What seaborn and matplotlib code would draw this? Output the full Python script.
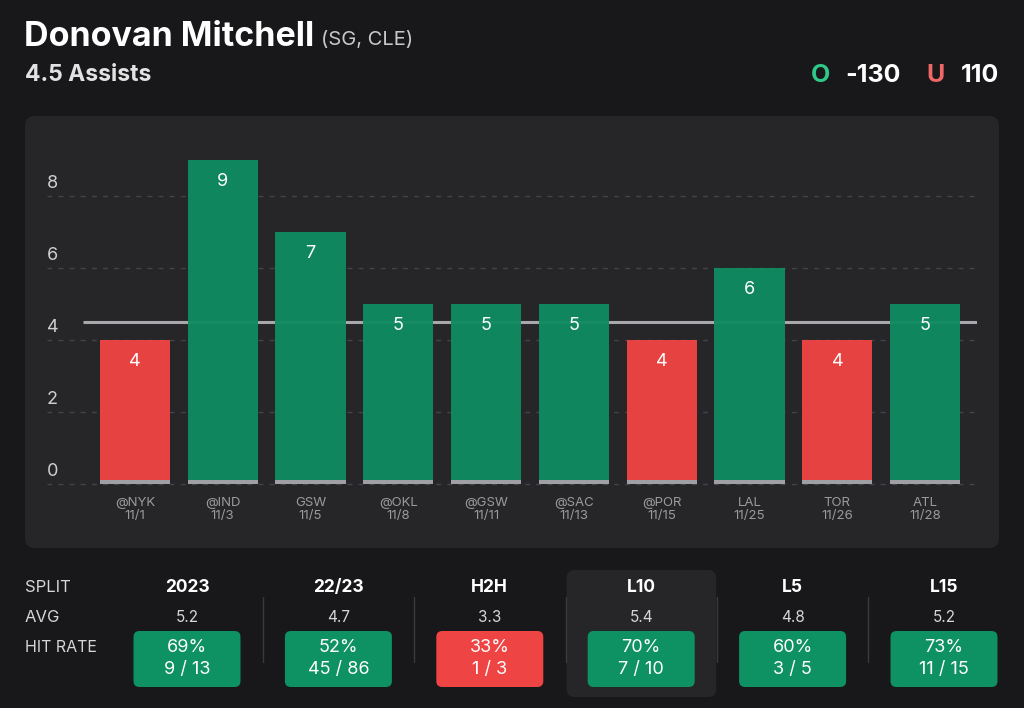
import matplotlib
matplotlib.use("Agg")
import matplotlib.pyplot as plt
import matplotlib.transforms as mtransforms
from matplotlib.patches import FancyBboxPatch
import seaborn as sns
import pandas as pd

# ---------------- data ----------------
player = "Donovan Mitchell"
player_info = "(SG, CLE)"
prop_label = "4.5 Assists"
line_value = 4.5
over_odds = "-130"
under_odds = "110"

opponents = ["@NYK", "@IND", "GSW", "@OKL", "@GSW", "@SAC", "@POR", "LAL", "TOR", "ATL"]
dates = ["11/1", "11/3", "11/5", "11/8", "11/11", "11/13", "11/15", "11/25", "11/26", "11/28"]
assists = [4, 9, 7, 5, 5, 5, 4, 6, 4, 5]
y_ticks = [0, 2, 4, 6, 8]

split_names = ["2023", "22/23", "H2H", "L10", "L5", "L15"]
split_avgs = ["5.2", "4.7", "3.3", "5.4", "4.8", "5.2"]
split_pct = [69, 52, 33, 70, 60, 73]
split_hits = [9, 45, 1, 7, 3, 11]
split_games = [13, 86, 3, 10, 5, 15]
highlight_split = "L10"

# ---------------- style ----------------
BG = "#18181a"
PANEL = "#262628"
GREEN = "#0f8b60"
RED = "#ef4444"
BOX_GREEN = "#0e9163"
FONT = ["Inter", "DejaVu Sans"]

sns.set_theme(style="dark")
plt.rcParams["font.family"] = FONT

W, H = 1024, 708
fig = plt.figure(figsize=(W / 100, H / 100), dpi=100, facecolor=BG)

# background axes in pixel coordinates (top-left origin)
bg = fig.add_axes([0, 0, 1, 1], zorder=0)
bg.set_xlim(0, W)
bg.set_ylim(H, 0)
bg.axis("off")
bg.set_facecolor(BG)

def rbox(x0, y0, x1, y1, r, color, z=1):
    p = FancyBboxPatch((x0 + r, y0 + r), (x1 - x0) - 2 * r, (y1 - y0) - 2 * r,
                       boxstyle=f"round,pad={r}", facecolor=color, edgecolor="none", zorder=z)
    bg.add_patch(p)

# chart panel
rbox(25, 116, 999, 548, 10, PANEL)

# header
t = bg.text(24, 37, player, fontsize=24.5, fontweight="bold", color="white",
            va="center", ha="left")
fig.canvas.draw()
bb = t.get_window_extent()
bg.text(bb.x1 + 7, 40, player_info, fontsize=14.5, color="#c8c8c8", va="center", ha="left")
bg.text(25, 75, prop_label, fontsize=16.5, fontweight="bold", color="#e2e2e2", va="center", ha="left")

bg.text(811, 75, "O", fontsize=18, fontweight="bold", color="#2ec98a", va="center", ha="left")
bg.text(845, 75, over_odds, fontsize=18, fontweight="bold", color="white", va="center", ha="left")
bg.text(926, 75, "U", fontsize=18, fontweight="bold", color="#f06767", va="center", ha="left")
bg.text(999, 75, under_odds, fontsize=18, fontweight="bold", color="white", va="center", ha="right")

# ---------------- bar chart ----------------
n = len(assists)
df = pd.DataFrame({
    "label": [f"{o}\n{d}" for o, d in zip(opponents, dates)],
    "value": assists,
    "result": ["over" if v > line_value else "under" for v in assists],
})

ylo, yhi = -0.12, 9.8
px_per_unit = 36.0
zero_px = 484
ax_left, ax_right = 47, 977
ax_bottom_px = zero_px - ylo * px_per_unit
ax_top_px = zero_px - yhi * px_per_unit
ax = fig.add_axes([ax_left / W, 1 - ax_bottom_px / H, (ax_right - ax_left) / W,
                   (ax_bottom_px - ax_top_px) / H], zorder=2)
ax.set_facecolor("none")

# reference line (behind the bars)
ax.hlines(line_value, -0.59, n - 0.41, color="#a8a8ac", linewidth=2.2, zorder=2)

sns.barplot(data=df, x="label", y="value", hue="result",
            palette={"over": GREEN, "under": RED}, dodge=False, width=0.8,
            saturation=1, legend=False, ax=ax, zorder=3, linewidth=0, edgecolor="none")
for p in ax.patches:
    p.set_alpha(0.96)

# grey baseline strip at bar bottoms
ax.bar(range(n), [0.11] * n, width=0.8, color="#9ea0a6", linewidth=0, zorder=4)

ax.set_xlim(-1.0, n - 0.41)
ax.set_ylim(ylo, yhi)
ax.set_yticks(y_ticks)
ax.set_yticklabels([])
ax.grid(False)
ax.yaxis.grid(True, color="#444448", linestyle=(0, (3.5, 4.5)), linewidth=1)
ax.set_axisbelow(True)
for s in ax.spines.values():
    s.set_visible(False)
ax.tick_params(axis="both", length=0)
ax.tick_params(axis="x", pad=6, labelsize=9.5, labelcolor="#9b9b9b")
ax.set_xlabel("")
ax.set_ylabel("")

# y tick labels above the gridlines
ytrans = mtransforms.offset_copy(ax.get_yaxis_transform(), fig=fig, x=0, y=12, units="dots")
for v in y_ticks:
    ax.text(0, v, str(v), transform=ytrans, fontsize=13, color="#cfcfcf",
            ha="left", va="center")

# value labels
for i, v in enumerate(assists):
    ax.annotate(str(v), (i, v), xytext=(0, -21), textcoords="offset pixels",
                ha="center", va="center", fontsize=13, color="white", zorder=6)

# ---------------- splits table ----------------
col0, col_step = 187, 151.4
bg.text(25, 587, "SPLIT", fontsize=12, color="#d6d6d6", va="center", ha="left")
bg.text(25, 617, "AVG", fontsize=12, color="#d6d6d6", va="center", ha="left")
bg.text(25, 647, "HIT RATE", fontsize=11.5, color="#d6d6d6", va="center", ha="left")

for i, name in enumerate(split_names):
    cx = col0 + i * col_step
    if name == highlight_split:
        rbox(cx - 74.5, 570, cx + 75, 697, 8, PANEL)
    bg.text(cx, 587, name, fontsize=12.5, fontweight="bold", color="white", va="center", ha="center")
    bg.text(cx, 617, split_avgs[i], fontsize=11, color="#d6d6d6", va="center", ha="center")
    color = BOX_GREEN if split_pct[i] >= 50 else RED
    rbox(cx - 53.5, 631, cx + 53.5, 687, 6, color, z=2)
    bg.text(cx, 647, f"{split_pct[i]}%", fontsize=13, color="white", va="center", ha="center", zorder=3)
    bg.text(cx, 670, f"{split_hits[i]} / {split_games[i]}", fontsize=13, color="white",
            va="center", ha="center", zorder=3)
    if i > 0:
        sx = cx - col_step / 2
        bg.plot([sx, sx], [597, 662], color="#3a3a3e", linewidth=1, zorder=3)

fig.savefig("out.png", dpi=100, facecolor=BG)
